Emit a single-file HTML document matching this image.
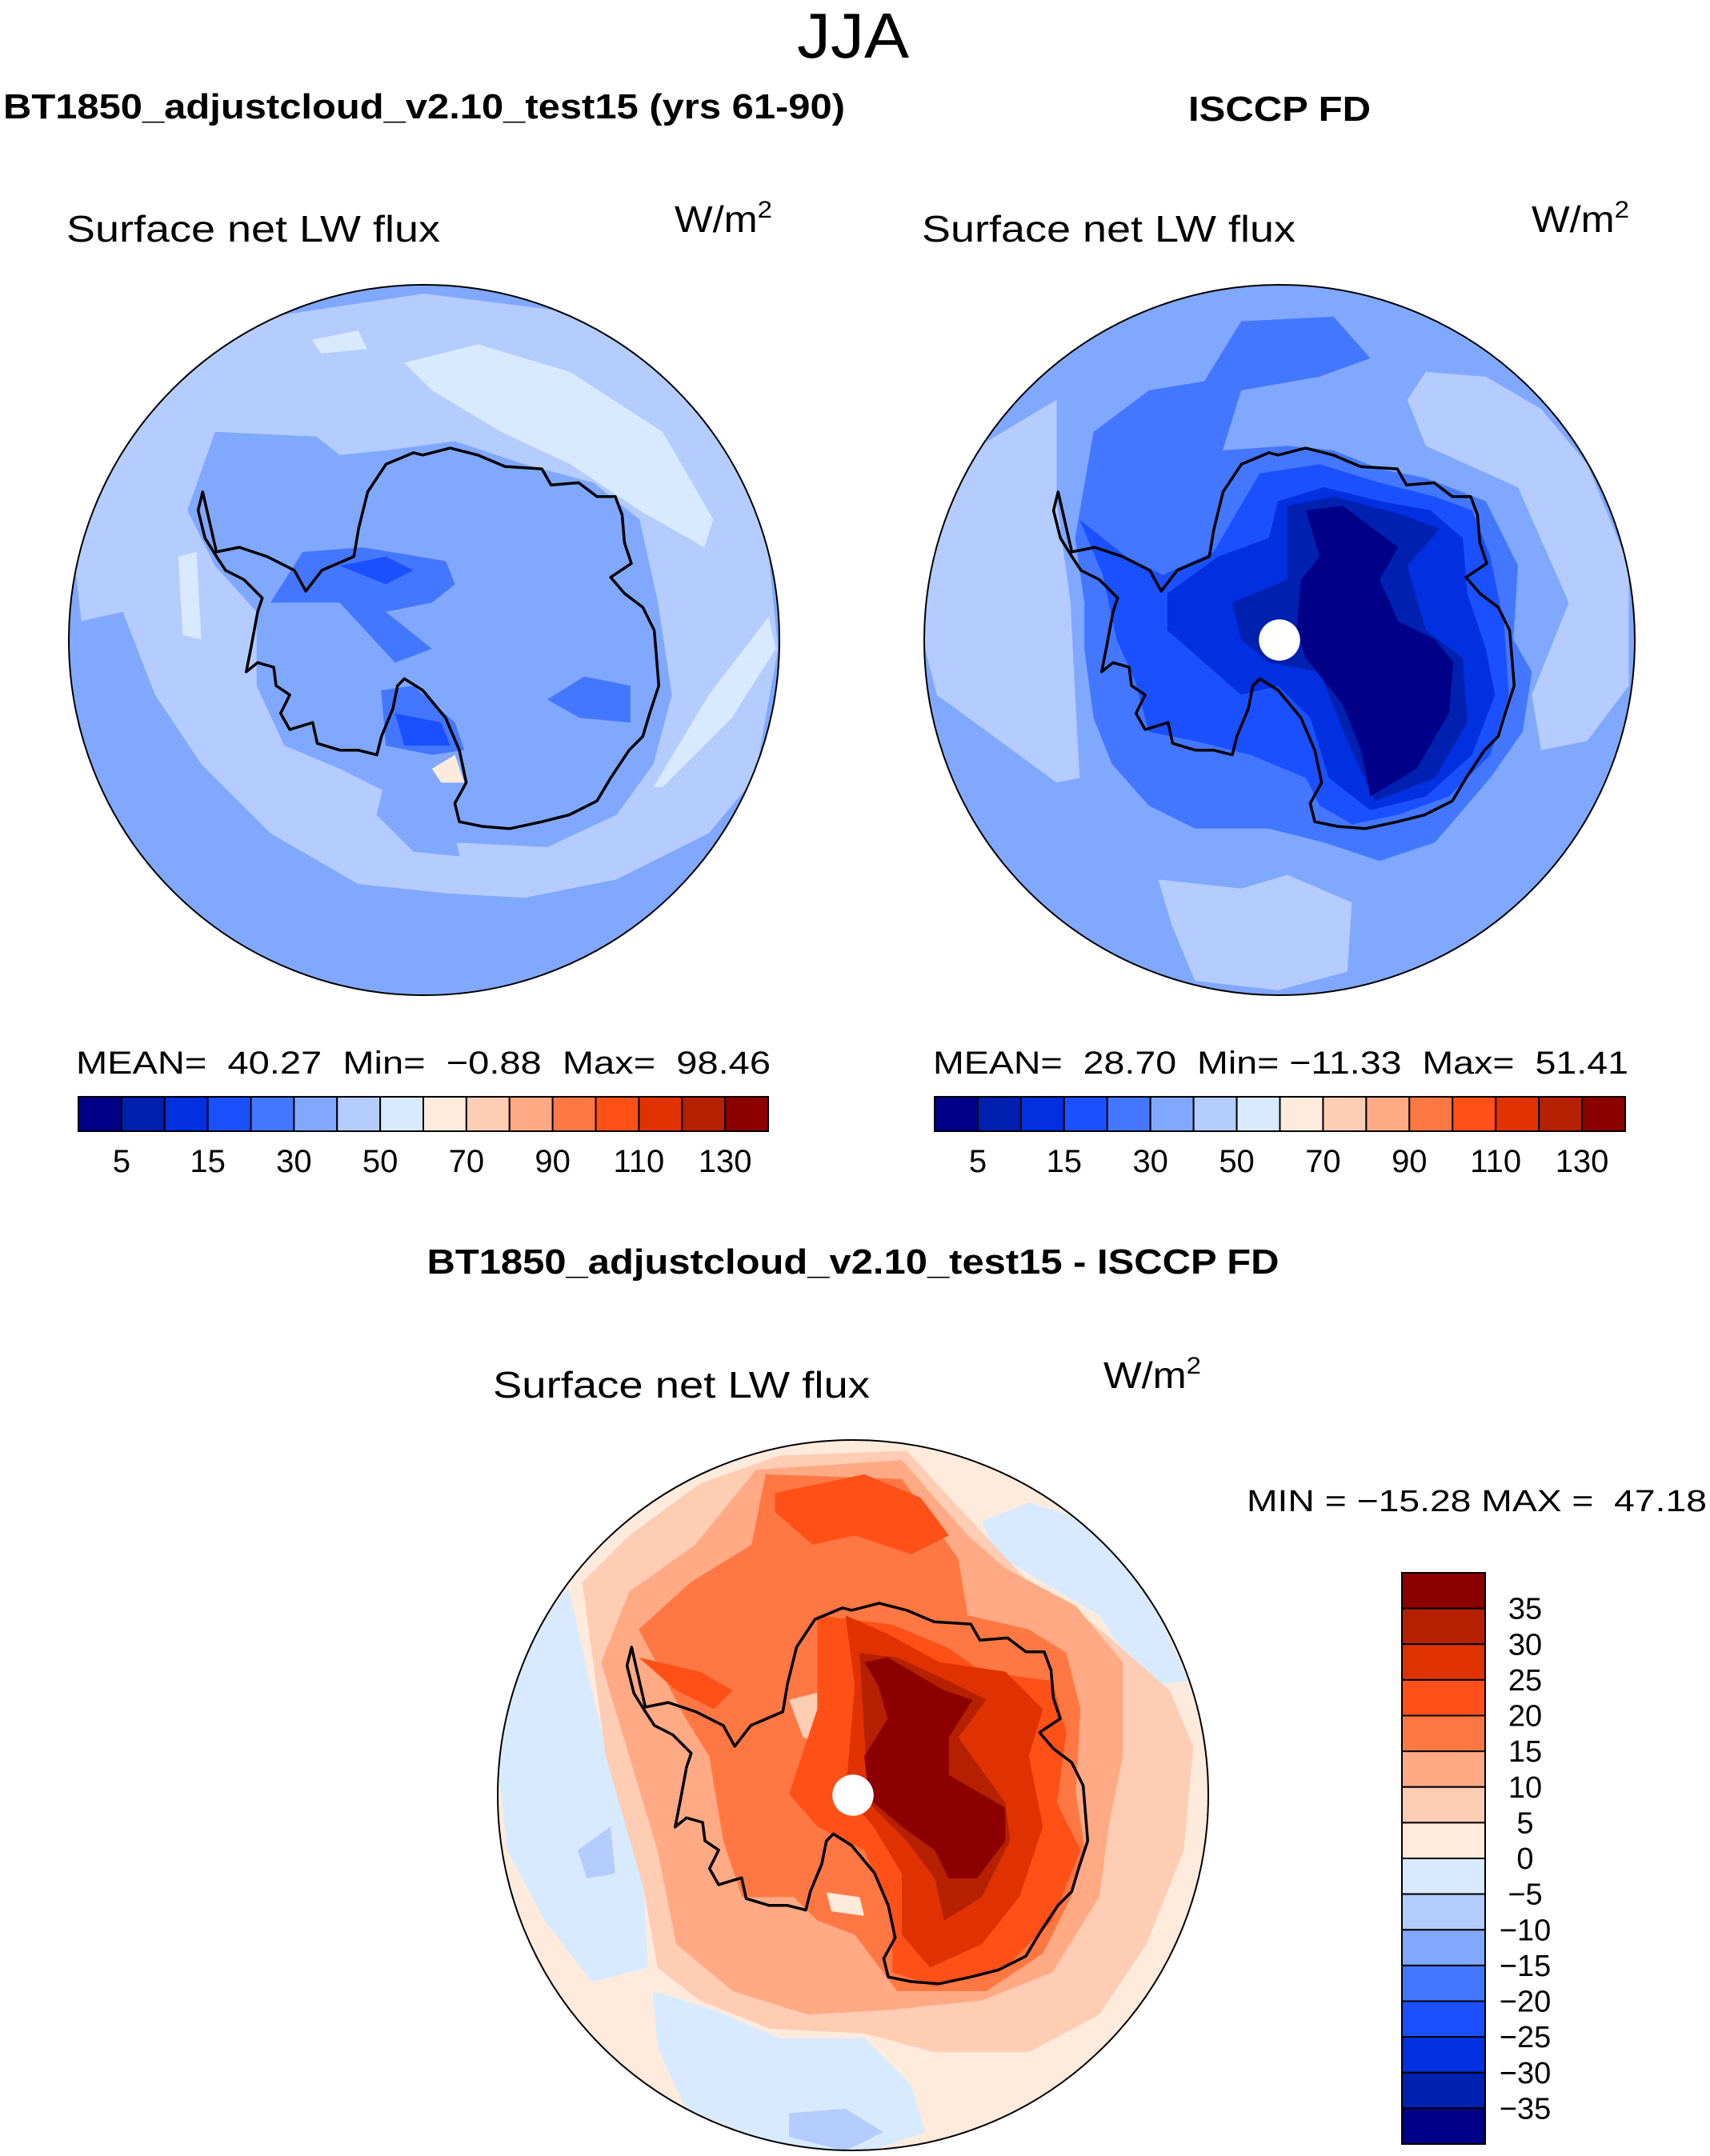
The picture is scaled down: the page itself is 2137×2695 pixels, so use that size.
<!DOCTYPE html>
<html><head><meta charset="utf-8"><style>
html,body{margin:0;padding:0;background:#fff;}
svg{display:block;}
text{font-family:"Liberation Sans",sans-serif;fill:#000;}
</style></head><body>
<svg id="fig" xmlns="http://www.w3.org/2000/svg" width="2137" height="2695" viewBox="0 0 2137 2695">
<defs>
<clipPath id="clipL"><circle cx="530" cy="800" r="444"/></clipPath>
<clipPath id="clipR"><circle cx="1599" cy="800" r="444"/></clipPath>
<clipPath id="clipB"><circle cx="1066" cy="2244" r="444"/></clipPath>
</defs>
<text x="1066" y="72" text-anchor="middle" font-size="80" textLength="140" lengthAdjust="spacingAndGlyphs" style="font-weight:300">JJA</text>
<text x="4" y="148" font-size="44" font-weight="bold" textLength="1052" lengthAdjust="spacingAndGlyphs">BT1850_adjustcloud_v2.10_test15 (yrs 61-90)</text>
<text x="1599" y="151" text-anchor="middle" font-size="44" font-weight="bold" textLength="228" lengthAdjust="spacingAndGlyphs">ISCCP FD</text>
<text x="83" y="302" font-size="46" textLength="467" lengthAdjust="spacingAndGlyphs">Surface net LW flux</text>
<text x="843" y="290" font-size="46" textLength="122" lengthAdjust="spacingAndGlyphs">W/m<tspan font-size="30" dy="-18">2</tspan></text>
<text x="1152" y="302" font-size="46" textLength="467" lengthAdjust="spacingAndGlyphs">Surface net LW flux</text>
<text x="1914" y="290" font-size="46" textLength="122" lengthAdjust="spacingAndGlyphs">W/m<tspan font-size="30" dy="-18">2</tspan></text>
<text x="1066" y="1592" text-anchor="middle" font-size="44" font-weight="bold" textLength="1065" lengthAdjust="spacingAndGlyphs">BT1850_adjustcloud_v2.10_test15 - ISCCP FD</text>
<text x="616" y="1747" font-size="46" textLength="471" lengthAdjust="spacingAndGlyphs">Surface net LW flux</text>
<text x="1379" y="1735" font-size="46" textLength="122" lengthAdjust="spacingAndGlyphs">W/m<tspan font-size="30" dy="-18">2</tspan></text>
<text x="1558" y="1889" font-size="38" textLength="575" lengthAdjust="spacingAndGlyphs" xml:space="preserve">MIN = −15.28 MAX =  47.18</text>
<text x="95" y="1342" font-size="40" textLength="868" lengthAdjust="spacingAndGlyphs" xml:space="preserve">MEAN=  40.27  Min=  −0.88  Max=  98.46</text>
<text x="1166" y="1342" font-size="40" textLength="869" lengthAdjust="spacingAndGlyphs" xml:space="preserve">MEAN=  28.70  Min= −11.33  Max=  51.41</text>
<g id="maps"></g>
<g id="bars"></g>
</svg>
<script>
// colour levels
const absColors = ["#000088","#0020B0","#0030E0","#1A50FF","#4477FF","#80A8FF","#B4CCFF","#D8EAFF","#FFEBDC","#FFCCB4","#FFAA84","#FF7844","#FF5018","#E03200","#B42000","#8C0000"];
const absTickLabels = ["5","15","30","50","70","90","110","130"];
const diffTickLabels = ["35","30","25","20","15","10","5","0","−5","−10","−15","−20","−25","−30","−35"];

// coastline (image-space coords of a 775-radius reference frame)
const coast = [[300,460],[330,590],[380,580],[440,600],[500,630],[525,675],[560,630],[630,600],[640,540],[660,460],[700,400],[760,375],[780,380],[840,365],[900,380],[960,405],[1040,410],[1060,445],[1120,440],[1160,470],[1200,470],[1215,510],[1220,570],[1235,615],[1190,645],[1220,680],[1260,710],[1285,760],[1290,820],[1295,880],[1275,940],[1260,990],[1230,1020],[1190,1080],[1160,1130],[1100,1160],[1040,1175],[970,1190],[910,1185],[860,1175],[850,1135],[875,1090],[860,1020],[830,950],[780,890],[740,865],[725,880],[715,930],[690,990],[680,1030],[640,1020],[600,1020],[550,1005],[540,960],[490,975],[470,940],[490,900],[460,880],[455,840],[420,830],[395,850],[405,800],[420,720],[430,690],[390,650],[350,630],[330,600],[305,560],[290,500]];

// contour regions: [level, polygon]
const leftRegions = [
 [6,[[20,560],[100,330],[250,180],[450,80],[783,30],[1100,70],[1350,200],[1480,400],[1530,600],[1550,800],[1500,1080],[1400,1200],[1200,1300],[1000,1340],[830,1330],[640,1310],[450,1200],[300,1050],[200,900],[130,720],[40,740]]],
 [5,[[330,330],[550,340],[600,380],[700,370],[850,350],[1000,400],[1150,440],[1250,520],[1290,700],[1320,900],[1280,1050],[1200,1160],[1050,1230],[850,1220],[780,1150],[720,1120],[600,1060],[480,1010],[420,880],[420,720],[330,620],[270,500]]],
 [5,[[700,1080],[830,1120],[860,1250],[760,1240],[680,1160]]],
 [7,[[740,180],[900,140],[1100,200],[1300,330],[1410,520],[1390,580],[1250,500],[1100,400],[950,330],[800,240]]],
 [7,[[1280,1100],[1400,900],[1530,730],[1545,800],[1450,950],[1300,1100]]],
 [7,[[540,130],[640,110],[660,150],[560,160]]],
 [7,[[250,600],[290,590],[300,780],[260,770]]],
 [4,[[520,590],[650,580],[830,610],[850,660],[800,700],[700,720],[800,800],[720,830],[600,700],[450,700]]],
 [4,[[690,890],[760,880],[850,960],[870,1020],[800,1030],[700,1010]]],
 [4,[[1050,910],[1130,860],[1230,880],[1230,960],[1120,950]]],
 [3,[[600,620],[700,600],[760,630],[700,660]]],
 [3,[[720,940],[820,960],[840,1010],[740,1010]]],
 [8,[[800,1060],[850,1030],[870,1090],[820,1090]]]
];
const rightRegions = [
 [6,[[10,620],[100,380],[300,260],[300,480],[330,700],[340,900],[350,1080],[300,1090],[150,980],[40,900],[15,800]]],
 [6,[[1060,260],[1100,200],[1230,210],[1350,280],[1450,400],[1540,620],[1540,880],[1450,1000],[1350,1020],[1330,900],[1410,700],[1300,450],[1100,360]]],
 [6,[[520,1300],[700,1320],[800,1290],[940,1350],[930,1500],[780,1540],[600,1520],[550,1400]]],
 [4,[[380,330],[500,240],[620,220],[700,90],[900,80],[980,170],[870,210],[700,240],[660,370],[800,360],[900,370],[1000,410],[1100,430],[1230,480],[1300,620],[1290,780],[1330,850],[1310,980],[1240,1080],[1120,1220],[1000,1260],[880,1220],[760,1190],[600,1190],[500,1140],[420,1050],[380,950],[360,800],[360,700],[340,560]]],
 [3,[[350,520],[450,600],[530,640],[640,590],[740,420],[870,400],[1000,440],[1120,470],[1200,500],[1240,600],[1270,750],[1280,900],[1240,1030],[1150,1120],[1040,1160],[940,1180],[870,1140],[840,1080],[720,1030],[600,1000],[500,980],[470,870],[430,780],[400,640]]],
 [2,[[540,680],[650,600],[760,560],[780,480],[880,450],[1000,480],[1110,500],[1180,560],[1190,680],[1230,800],[1250,900],[1200,1030],[1100,1120],[980,1150],[890,1080],[850,950],[780,880],[700,900],[620,830],[540,760]]],
 [1,[[680,700],[800,650],[800,490],[900,470],[1050,510],[1130,540],[1060,620],[1100,760],[1180,820],[1190,960],[1120,1080],[990,1130],[930,1000],[870,850],[760,830],[700,780]]],
 [0,[[840,500],[920,490],[1040,580],[1000,650],[1040,740],[1120,780],[1160,830],[1150,940],[1080,1060],[980,1120],[960,1020],[920,920],[840,820],[820,760],[830,650],[870,600]]]
];
const diffRegions = [
 [7,[[60,480],[170,340],[220,560],[270,760],[330,960],[340,1150],[220,1180],[120,1050],[40,900],[20,720]]],
 [7,[[350,1200],[480,1240],[620,1300],[800,1300],[900,1400],[930,1500],[800,1545],[600,1525],[420,1450],[360,1320]]],
 [7,[[1050,200],[1150,160],[1280,200],[1400,340],[1490,540],[1400,550],[1300,400],[1180,330],[1080,270]]],
 [6,[[190,900],[260,850],[270,950],[210,960]]],
 [6,[[640,1460],[760,1450],[840,1500],[760,1540],[640,1510]]],
 [9,[[200,330],[300,230],[450,120],[620,60],[890,50],[1000,170],[1150,330],[1290,420],[1450,560],[1500,680],[1480,900],[1400,1100],[1300,1250],[1150,1330],[950,1330],[800,1290],[600,1280],[450,1220],[360,1150],[330,980],[250,700]]],
 [10,[[240,500],[300,350],[440,250],[570,90],[880,70],[1020,230],[1100,300],[1250,380],[1350,500],[1350,700],[1320,850],[1300,1000],[1200,1160],[1050,1220],[850,1240],[680,1250],[520,1200],[400,1100],[360,900],[300,700]]],
 [11,[[320,430],[430,330],[560,250],[590,100],[880,110],[1000,280],[1020,400],[1150,430],[1230,480],[1260,600],[1250,780],[1270,900],[1240,1000],[1180,1120],[1060,1200],[870,1200],[780,1080],[700,1050],[650,1000],[540,1000],[500,880],[470,700],[420,620]]],
 [9,[[640,580],[720,560],[780,620],[740,680],[670,660]]],
 [9,[[1020,700],[1080,660],[1130,720],[1060,760]]],
 [12,[[610,140],[800,100],[920,150],[980,230],[900,270],[780,230],[690,250],[610,180]]],
 [12,[[320,490],[450,520],[520,560],[480,600],[400,560]]],
 [12,[[700,400],[860,420],[980,470],[1050,520],[1200,540],[1230,650],[1210,800],[1260,900],[1200,1050],[1100,1150],[950,1190],[860,1160],[860,1050],[800,900],[700,850],[640,780],[700,600]]],
 [13,[[760,400],[850,440],[960,500],[1100,520],[1180,600],[1150,700],[1180,850],[1130,1000],[1050,1100],[940,1150],[880,1080],[880,950],[820,850],[760,780],[780,550]]],
 [14,[[790,480],[870,490],[980,540],[1060,580],[1000,660],[1100,800],[1110,880],[1050,1000],[970,1050],[950,960],[890,880],[810,800],[800,650]]],
 [15,[[800,500],[850,490],[970,560],[1030,580],[980,660],[980,740],[1100,810],[1100,880],[1040,960],[980,960],[950,900],[880,850],[810,790],[800,700],[850,620],[830,550]]],
 [8,[[720,990],[790,1000],[800,1040],[730,1030]]]
];

const NS = "http://www.w3.org/2000/svg";
const maps = document.getElementById("maps");
const bars = document.getElementById("bars");
function mk(tag, attrs, parent){ const e=document.createElementNS(NS,tag); for(const k in attrs) e.setAttribute(k,attrs[k]); parent.appendChild(e); return e; }

function drawMap(name, cx, cy, r, bgLevel, regions, frame, pole){
  const g = mk("g",{"clip-path":"url(#clip"+name[0].toUpperCase()+")"},maps);
  
  
  const toX = x => cx + (x-frame[0])/frame[2]*r;
  const toY = y => cy + (y-frame[1])/frame[2]*r;
  const bg = mk("circle",{cx:cx,cy:cy,r:r,fill:absColors[bgLevel]},g);
  
  
  regions.forEach((reg,i)=>{
    const p = mk("polygon",{points:reg[1].map(q=>toX(q[0]).toFixed(1)+","+toY(q[1]).toFixed(1)).join(" "),fill:absColors[reg[0]]},g);
    
    
  });
  const c = mk("polygon",{points:coast.map(q=>(cx+(q[0]-783)/775*r).toFixed(1)+","+(cy+(q[1]-781)/770*r).toFixed(1)).join(" "),fill:"none",stroke:"#000","stroke-width":3.5,"stroke-linejoin":"round"},g);
  
  
  if(pole){
    const w = mk("circle",{cx:cx,cy:cy,r:r*0.058,fill:"#fff"},g);
    
    
  }
  const o = mk("circle",{cx:cx,cy:cy,r:r,fill:"none",stroke:"#000","stroke-width":2},maps);
  
  
}
drawMap("left",530,800,444,5,leftRegions,[783,781,770],false);
drawMap("right",1599,800,444,5,rightRegions,[783,781,770],true);
drawMap("bottom",1066,2244,444,8,diffRegions,[776,783,756],true);

function hbar(name,x0,x1,y0,y1){
  const w=(x1-x0)/absColors.length;
  absColors.forEach((col,i)=>{
    const b=mk("rect",{x:x0+i*w,y:y0,width:w,height:y1-y0,fill:col,stroke:"#000","stroke-width":2},bars);
    
    
  });
  absTickLabels.forEach((t,k)=>{
    const tx=mk("text",{x:x0+(2*k+1)*w,y:1465,"text-anchor":"middle","font-size":40},bars);
    tx.textContent=t;
    
    
  });
}
hbar("left",98,960,1371,1414);
hbar("right",1168,2031,1371,1414);

(function(){
  const x0=1752,x1=1856,y0=1966,y1=2680,h=(y1-y0)/absColors.length;
  absColors.slice().reverse().forEach((col,i)=>{
    const b=mk("rect",{x:x0,y:y0+i*h,width:x1-x0,height:h,fill:col,stroke:"#000","stroke-width":2},bars);
    
    
  });
  diffTickLabels.forEach((t,k)=>{
    const tx=mk("text",{x:1906,y:y0+(k+1)*h+13,"text-anchor":"middle","font-size":38},bars);
    tx.textContent=t;
    
    
  });
})();
</script>
</body></html>
